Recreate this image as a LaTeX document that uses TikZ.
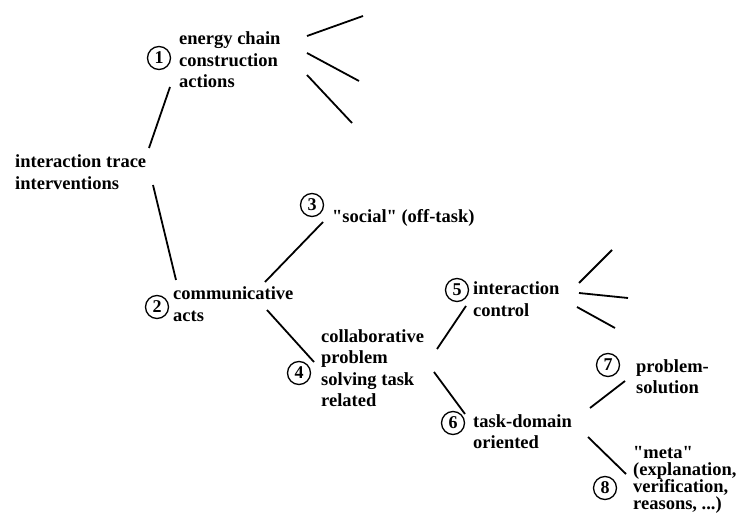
\documentclass[tikz,border=0pt]{standalone}
\usepackage{fontspec}
\setmainfont{Liberation Serif}[Ligatures=TeXOff]
\newcommand\tightlead{\lineskiplimit=-20pt\relax}

\begin{document}
\begin{tikzpicture}[x=1pt, y=-1pt,
  lab/.style={anchor=base west, align=left, inner sep=0pt, font=\fontsize{18.5}{21.5}\selectfont\bfseries},
  num/.style={draw, circle, line width=1.3pt, minimum size=23pt, inner sep=0pt, font=\fontsize{18}{18}\selectfont\bfseries},
  edge/.style={line width=1.8pt}]
\useasboundingbox (0,0) rectangle (741,526);
\node[lab] (root) at (15,189.5) {interaction trace\\interventions};
\node[num] (c1) at (159,58) {1};
\node[lab] (energy) at (179,88) {energy chain\\construction\\actions};
\node[num] (c2) at (157,307) {2};
\node[lab] (comm) at (173,321.5) {communicative\\acts};
\node[num] (c3) at (312,205) {3};
\node[lab] (social) at (332,223) {"social" (off-task)};
\node[num] (c4) at (299,373) {4};
\node[lab] (collab) at (321,406.5) {collaborative\\problem\\solving task\\related};
\node[num] (c5) at (457,290) {5};
\node[lab] (ictrl) at (473,316.5) {interaction\\control};
\node[num] (c6) at (453,423) {6};
\node[lab] (taskdom) at (473,448.5) {task-domain\\oriented};
\node[num] (c7) at (608,365) {7};
\node[lab] (probsol) at (636,393.5) {problem-\\solution};
\node[num] (c8) at (605,488) {8};
\node[lab, font={\fontsize{18.5}{17}\selectfont\bfseries\tightlead}] (meta) at (633,509) {"meta"\\(explanation,\\verification,\\reasons, ...)};

\coordinate (r1a) at (149,148); \coordinate (r1b) at (170,87);
\coordinate (r2a) at (153,185); \coordinate (r2b) at (176,280);
\coordinate (e3a) at (265,282); \coordinate (e3b) at (323,222);
\coordinate (e4a) at (267,310); \coordinate (e4b) at (314,362);
\coordinate (e5a) at (437,349); \coordinate (e5b) at (466,306);
\coordinate (e6a) at (434,372); \coordinate (e6b) at (465,414);
\coordinate (e7a) at (590,408); \coordinate (e7b) at (625,381);
\coordinate (e8a) at (588,437); \coordinate (e8b) at (626,474);
\draw[edge] (r1a) -- (r1b);
\draw[edge] (r2a) -- (r2b);
\draw[edge] (e3a) -- (e3b);
\draw[edge] (e4a) -- (e4b);
\draw[edge] (e5a) -- (e5b);
\draw[edge] (e6a) -- (e6b);
\draw[edge] (e7a) -- (e7b);
\draw[edge] (e8a) -- (e8b);

\coordinate (f1a) at (307,36); \coordinate (f1b) at (363,16);
\coordinate (f2a) at (307,53); \coordinate (f2b) at (359,81);
\coordinate (f3a) at (307,75); \coordinate (f3b) at (352,123);
\draw[edge] (f1a) -- (f1b);
\draw[edge] (f2a) -- (f2b);
\draw[edge] (f3a) -- (f3b);

\coordinate (g1a) at (579,283); \coordinate (g1b) at (612,250);
\coordinate (g2a) at (579,293); \coordinate (g2b) at (628,298);
\coordinate (g3a) at (577,307); \coordinate (g3b) at (615,328);
\draw[edge] (g1a) -- (g1b);
\draw[edge] (g2a) -- (g2b);
\draw[edge] (g3a) -- (g3b);
\end{tikzpicture}
\end{document}
